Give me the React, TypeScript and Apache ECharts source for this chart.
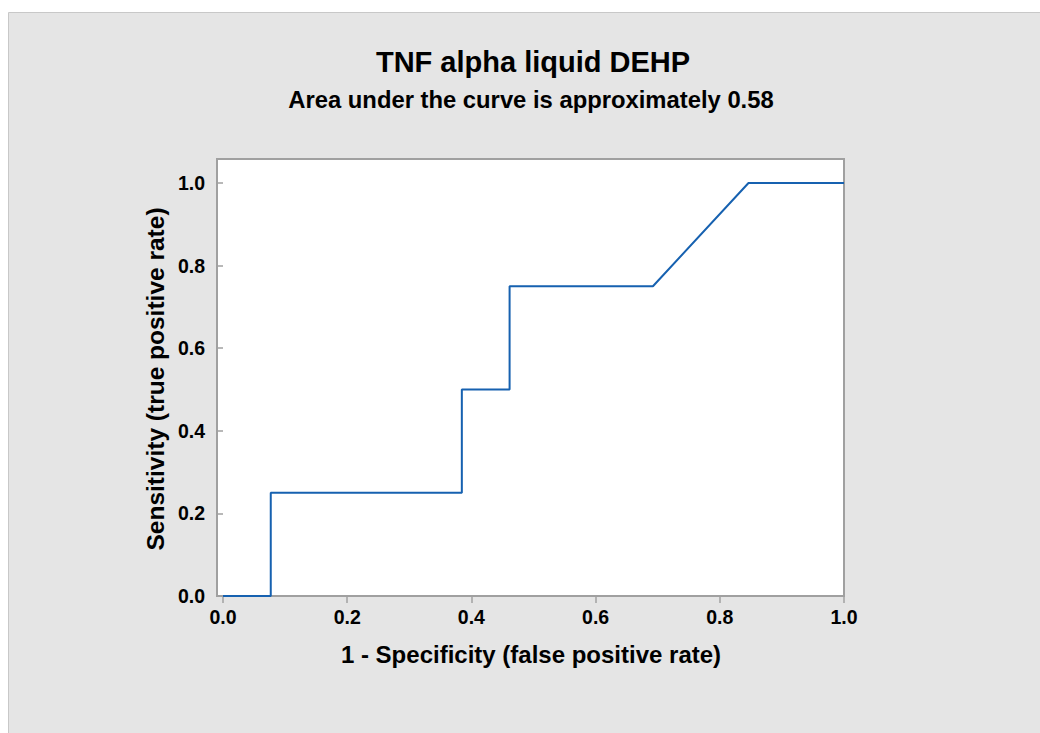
import React, { useEffect, useRef } from "react";
import * as echarts from "echarts";

const titleText = "TNF alpha liquid DEHP";
const subtitleText = "Area under the curve is approximately 0.58";
const xAxisName = "1 - Specificity (false positive rate)";
const yAxisName = "Sensitivity (true positive rate)";
const falsePositiveRate = [0, 0.0769, 0.0769, 0.3846, 0.3846, 0.4615, 0.4615, 0.6923, 0.8462, 1.0];
const truePositiveRate = [0, 0, 0.25, 0.25, 0.5, 0.5, 0.75, 0.75, 1.0, 1.0];
const tickStep = 0.2;

const FONT = "'Liberation Sans', Arial, Helvetica, sans-serif";

export default function App() {
  const ref = useRef<HTMLDivElement>(null);
  useEffect(() => {
    if (!ref.current) return;
    const chart = echarts.init(ref.current, undefined, { renderer: "svg" });
    const data = falsePositiveRate.map((x, i) => [x, truePositiveRate[i]]);
    chart.setOption({
      animation: false,
      backgroundColor: "#ffffff",
      textStyle: { fontFamily: FONT },
      grid: { left: 223, top: 183, width: 621, height: 413, containLabel: false },
      xAxis: {
        type: "value",
        min: 0,
        max: 1,
        interval: tickStep,
        axisLine: { show: false },
        axisTick: { show: true, length: 7, lineStyle: { color: "#a0a0a0", width: 1.5 } },
        splitLine: { show: false },
        axisLabel: {
          margin: 11,
          fontSize: 19.5,
          fontWeight: "bold",
          color: "#000",
          fontFamily: FONT,
          formatter: (v: number) => v.toFixed(1),
        },
      },
      yAxis: {
        type: "value",
        min: 0,
        max: 1,
        interval: tickStep,
        offset: 6,
        axisLine: { show: false },
        axisTick: { show: true, length: 6, lineStyle: { color: "#a0a0a0", width: 1.5 } },
        splitLine: { show: false },
        axisLabel: {
          margin: 12,
          fontSize: 19.5,
          fontWeight: "bold",
          color: "#000",
          fontFamily: FONT,
          formatter: (v: number) => v.toFixed(1),
        },
      },
      graphic: [
        {
          type: "rect",
          z: -20,
          shape: { x: 8.5, y: 12.5, width: 1040, height: 730 },
          style: { fill: "#e5e5e5", stroke: "#c8c8c8", lineWidth: 1 },
          silent: true,
        },
        {
          type: "rect",
          z: -10,
          shape: { x: 217, y: 159, width: 627, height: 437 },
          style: { fill: "#ffffff", stroke: "#a0a0a0", lineWidth: 2 },
          silent: true,
        },
        {
          type: "text",
          x: 533,
          y: 62,
          style: {
            text: titleText,
            fontSize: 29,
            fontWeight: "bold",
            fontFamily: FONT,
            fill: "#000",
            textAlign: "center",
            textVerticalAlign: "middle",
          },
        },
        {
          type: "text",
          x: 531,
          y: 99,
          style: {
            text: subtitleText,
            fontSize: 23.8,
            fontWeight: "bold",
            fontFamily: FONT,
            fill: "#000",
            textAlign: "center",
            textVerticalAlign: "middle",
          },
        },
        {
          type: "text",
          x: 531,
          y: 654,
          style: {
            text: xAxisName,
            fontSize: 24,
            fontWeight: "bold",
            fontFamily: FONT,
            fill: "#000",
            textAlign: "center",
            textVerticalAlign: "middle",
          },
        },
        {
          type: "text",
          x: 155,
          y: 379,
          rotation: Math.PI / 2,
          style: {
            text: yAxisName,
            fontSize: 24.5,
            fontWeight: "bold",
            fontFamily: FONT,
            fill: "#000",
            textAlign: "center",
            textVerticalAlign: "middle",
          },
        },
      ],
      series: [
        {
          type: "line",
          data,
          showSymbol: false,
          symbol: "none",
          clip: false,
          z: 5,
          lineStyle: { color: "#1661b0", width: 2 },
        },
      ],
    });
    return () => chart.dispose();
  }, []);
  return (
    <div
      ref={ref}
      style={{ position: "absolute", left: 0, top: 0, width: 1040, height: 733 }}
    />
  );
}
